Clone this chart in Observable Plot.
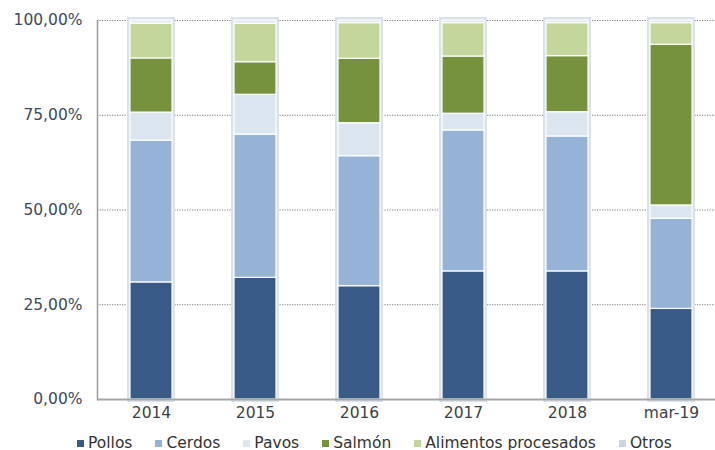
<!DOCTYPE html>
<html>
<head>
<meta charset="utf-8">
<script src="https://cdn.jsdelivr.net/npm/d3@7"></script>
<script src="https://cdn.jsdelivr.net/npm/@observablehq/plot@0.6"></script>
<style>
  html, body { margin: 0; padding: 0; background: #fff; overflow: hidden; }
  #wrap { position: relative; width: 715px; height: 450px; overflow: hidden; font-family: "DejaVu Sans", Verdana, sans-serif; }
  #title { position: absolute; left: 0; width: 740px; top: -8px; text-align: center; font-size: 20px; line-height: 20px; color: #3a6fb0; white-space: nowrap; }
  #chart { position: absolute; left: 0; top: 0; width: 727px; }
  #chart svg { max-width: none !important; }
  #legend { position: absolute; left: 77px; top: 436px; display: flex; font-size: 15.5px; line-height: 15px; color: #333; white-space: nowrap; }
  #legend .item { display: flex; align-items: center; margin-right: 23px; }
  #legend .sw { width: 7px; height: 7px; margin-right: 4px; }
</style>
</head>
<body>
<div id="wrap">
  <div id="title">(2014 – Mar 2019)</div>
  <div id="chart"></div>
  <div id="legend"></div>
</div>
<script>
const categories = ["2014", "2015", "2016", "2017", "2018", "mar-19"];
const seriesNames = ["Pollos", "Cerdos", "Pavos", "Salmón", "Alimentos procesados", "Otros"];
const pollos    = [30.9, 32.1, 29.9, 33.8, 33.8, 23.9];
const cerdos    = [37.4, 37.8, 34.3, 37.2, 35.6, 23.8];
const pavos     = [7.4, 10.5, 8.7, 4.4, 6.4, 3.5];
const salmon    = [14.3, 8.6, 17.0, 15.1, 14.8, 42.4];
const alimentos = [9.2, 10.1, 9.4, 8.8, 8.7, 5.7];
const otros     = [0.8, 0.9, 0.7, 0.7, 0.7, 0.7];
const yTicks = [0, 25, 50, 75, 100];
const colors = ["#375a87", "#95b3d7", "#dce6f1", "#76923c", "#c3d69b", "#e3e9f1"];

const seriesValues = [pollos, cerdos, pavos, salmon, alimentos, otros];
const data = [];
seriesNames.forEach((s, i) => {
  categories.forEach((c, j) => data.push({cat: c, series: s, value: seriesValues[i][j]}));
});

const fmt = d => d.toFixed(2).replace(".", ",") + "%";

const chart = Plot.plot({
  width: 727,
  height: 430,
  marginLeft: 97,
  marginRight: 3,
  marginTop: 20,
  marginBottom: 31,
  style: {fontFamily: "DejaVu Sans, Verdana, sans-serif", fontSize: "15.5px", background: "white", overflow: "visible", maxWidth: "none"},
  x: {domain: categories, paddingInner: 0.6, paddingOuter: 0.3, label: null},
  y: {domain: [0, 100], label: null},
  color: {domain: seriesNames, range: colors},
  marks: [
    Plot.gridY(yTicks, {stroke: "#7a7a7a", strokeOpacity: 1, strokeDasharray: "1.2,1.3", strokeWidth: 1}),
    Plot.barY(data, Plot.groupX({y: "sum"}, {x: "cat", y: "value", fill: "#e6ebf1", stroke: "#dbe2eb", strokeWidth: 6})),
    Plot.barY(data, {x: "cat", y: "value", fill: "series", stroke: "white", strokeWidth: 1.2, z: "series"}),
    Plot.ruleY([0], {stroke: "#a6a6a6", strokeWidth: 2}),
    Plot.frame({anchor: "left", stroke: "#9a9a9a", strokeWidth: 1.5}),
    Plot.axisY(yTicks, {tickSize: 0, tickPadding: 15, tickFormat: fmt, fill: "#3c4a5d"}),
    Plot.axisX({tickSize: 0, tickPadding: 7, fill: "#3a3f47"})
  ]
});
chart.style.maxWidth = "none";
document.getElementById("chart").appendChild(chart);

const legend = document.getElementById("legend");
seriesNames.forEach((s, i) => {
  const item = document.createElement("div");
  item.className = "item";
  const sw = document.createElement("span");
  sw.className = "sw";
  sw.style.background = i === 5 ? "#c9d5e4" : colors[i];
  const t = document.createElement("span");
  t.textContent = s;
  item.appendChild(sw);
  item.appendChild(t);
  legend.appendChild(item);
});
</script>
</body>
</html>
